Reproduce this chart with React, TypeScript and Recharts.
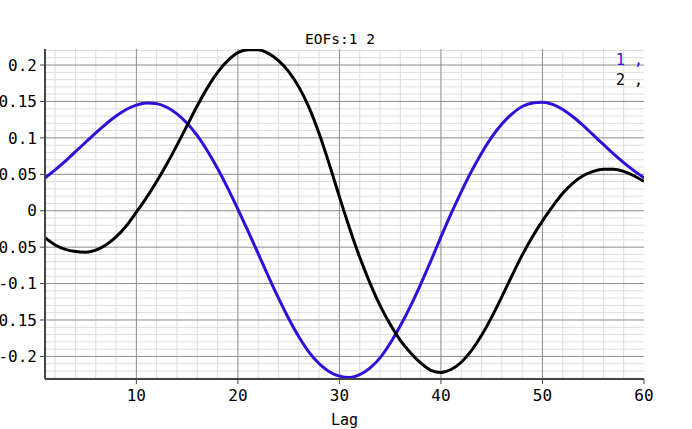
import React from 'react';
import { LineChart, Line, XAxis, YAxis, ReferenceLine } from 'recharts';

const lags = [1,2,3,4,5,6,7,8,9,10,11,12,13,14,15,16,17,18,19,20,21,22,23,24,25,26,27,28,29,30,31,32,33,34,35,36,37,38,39,40,41,42,43,44,45,46,47,48,49,50,51,52,53,54,55,56,57,58,59,60];

const eof1 = [0.045,0.056,0.068,0.081,0.094,0.107,0.119,0.130,0.139,0.145,
  0.148,0.147,0.142,0.133,0.120,0.103,0.082,0.058,0.031,0.002,
  -0.028,-0.059,-0.090,-0.120,-0.148,-0.173,-0.194,-0.210,-0.221,-0.227,
  -0.229,-0.225,-0.216,-0.202,-0.182,-0.158,-0.131,-0.101,-0.069,-0.036,
  -0.004,0.026,0.054,0.079,0.101,0.119,0.133,0.143,0.148,0.149,
  0.146,0.139,0.129,0.117,0.104,0.091,0.078,0.066,0.055,0.045];

const eof2 = [-0.037,-0.047,-0.053,-0.056,-0.057,-0.054,-0.047,-0.036,-0.021,-0.002,
  0.018,0.040,0.064,0.090,0.117,0.144,0.169,0.190,0.206,0.217,
  0.221,0.221,0.216,0.206,0.191,0.170,0.142,0.106,0.064,0.019,
  -0.024,-0.064,-0.099,-0.130,-0.156,-0.178,-0.195,-0.209,-0.219,-0.222,
  -0.218,-0.208,-0.192,-0.171,-0.146,-0.118,-0.089,-0.061,-0.036,-0.014,
  0.006,0.024,0.038,0.048,0.054,0.057,0.057,0.054,0.048,0.040];

const xMajorTicks = [10,20,30,40,50,60];
const xMinorTicks = [2,4,6,8,10,12,14,16,18,20,22,24,26,28,30,32,34,36,38,40,42,44,46,48,50,52,54,56,58,60];
const xMinorGrid = [2,4,6,8,12,14,16,18,22,24,26,28,32,34,36,38,42,44,46,48,52,54,56,58];
const yMajorTicks = [-0.2,-0.15,-0.1,-0.05,0,0.05,0.1,0.15,0.2];
const yMinorTicks = [-0.23,-0.22,-0.21,-0.2,-0.19,-0.18,-0.17,-0.16,-0.15,-0.14,-0.13,-0.12,-0.11,-0.1,-0.09,-0.08,-0.07,-0.06,-0.05,-0.04,-0.03,-0.02,-0.01,0,0.01,0.02,0.03,0.04,0.05,0.06,0.07,0.08,0.09,0.1,0.11,0.12,0.13,0.14,0.15,0.16,0.17,0.18,0.19,0.2,0.21,0.22];
const yMinorGrid = [-0.23,-0.22,-0.21,-0.19,-0.18,-0.17,-0.16,-0.14,-0.13,-0.12,-0.11,-0.09,-0.08,-0.07,-0.06,-0.04,-0.03,-0.02,-0.01,0.01,0.02,0.03,0.04,0.06,0.07,0.08,0.09,0.11,0.12,0.13,0.14,0.16,0.17,0.18,0.19,0.21,0.22];

const title = 'EOFs:1 2';
const legendItems = [
  { label: '1 ,', color: '#3010d8' },
  { label: '2 ,', color: '#000000' },
];

const data = lags.map((lag, i) => ({ lag, e1: eof1[i], e2: eof2[i] }));

const MONO = '"DejaVu Sans Mono", monospace';

export default function App() {
  return (
    <div style={{ position: 'absolute', left: 0, top: 0, width: 692, height: 429, background: '#fff' }}>
      <LineChart
        width={692}
        height={429}
        data={data}
        margin={{ top: 49, right: 48, left: 0, bottom: 0 }}
      >
        <XAxis
          xAxisId="minor"
          dataKey="lag"
          type="number"
          domain={[1, 60]}
          allowDataOverflow
          ticks={xMinorTicks}
          tick={false}
          tickSize={3}
          height={0}
          axisLine={false}
          tickLine={{ stroke: '#444', strokeWidth: 1 }}
        />
        <XAxis
          dataKey="lag"
          type="number"
          domain={[1, 60]}
          allowDataOverflow
          ticks={xMajorTicks}
          tickSize={5}
          tickMargin={6}
          height={50}
          axisLine={{ stroke: '#444', strokeWidth: 2 }}
          tickLine={{ stroke: '#444', strokeWidth: 1 }}
          tick={{ fontFamily: MONO, fontSize: 16, fill: '#000' }}
          label={{ value: 'Lag', position: 'insideBottom', offset: 4, style: { fontFamily: MONO, fontSize: 15, fill: '#000' } }}
        />
        <XAxis
          xAxisId="top"
          orientation="top"
          dataKey="lag"
          type="number"
          domain={[1, 60]}
          allowDataOverflow
          height={0}
          tick={false}
          tickLine={false}
          axisLine={{ stroke: '#666', strokeWidth: 2 }}
        />
        <YAxis
          yAxisId="minor"
          type="number"
          domain={[-0.231, 0.222]}
          allowDataOverflow
          ticks={yMinorTicks}
          tick={false}
          tickSize={3}
          width={0}
          axisLine={false}
          tickLine={{ stroke: '#444', strokeWidth: 1 }}
        />
        <YAxis
          type="number"
          domain={[-0.231, 0.222]}
          allowDataOverflow
          ticks={yMajorTicks}
          tickSize={5}
          tickMargin={3}
          width={45}
          tickFormatter={(v: number) => String(v)}
          axisLine={{ stroke: '#444', strokeWidth: 2 }}
          tickLine={{ stroke: '#444', strokeWidth: 1 }}
          tick={{ fontFamily: MONO, fontSize: 16, fill: '#000' }}
        />
        <YAxis
          yAxisId="right"
          orientation="right"
          type="number"
          domain={[-0.231, 0.222]}
          allowDataOverflow
          width={0}
          tick={false}
          tickLine={false}
          axisLine={{ stroke: '#666', strokeWidth: 2 }}
        />
        {xMinorGrid.map((v) => (
          <ReferenceLine key={'xm' + v} x={v} stroke="#dedede" strokeWidth={1} />
        ))}
        {yMinorGrid.map((v) => (
          <ReferenceLine key={'ym' + v} y={v} stroke="#dedede" strokeWidth={1} />
        ))}
        {xMajorTicks.slice(0, 5).map((v) => (
          <ReferenceLine key={'xM' + v} x={v} stroke="#8c8c8c" strokeWidth={1} />
        ))}
        {yMajorTicks.map((v) => (
          <ReferenceLine key={'yM' + v} y={v} stroke="#8c8c8c" strokeWidth={1} />
        ))}
        <Line type="monotone" dataKey="e1" stroke="#3010d8" strokeWidth={3} dot={false} isAnimationActive={false} />
        <Line type="monotone" dataKey="e2" stroke="#000" strokeWidth={3} dot={false} isAnimationActive={false} />
      </LineChart>
      <div style={{ position: 'absolute', left: 0, top: 31, width: 680, textAlign: 'center', fontFamily: MONO, fontSize: 14.5, lineHeight: '17px', color: '#000' }}>
        {title}
      </div>
      <div style={{ position: 'absolute', left: 616, top: 50, fontFamily: MONO, fontSize: 15, lineHeight: '20px', whiteSpace: 'pre' }}>
        {legendItems.map((it) => (
          <div key={it.label} style={{ color: it.color }}>{it.label}</div>
        ))}
      </div>
    </div>
  );
}
